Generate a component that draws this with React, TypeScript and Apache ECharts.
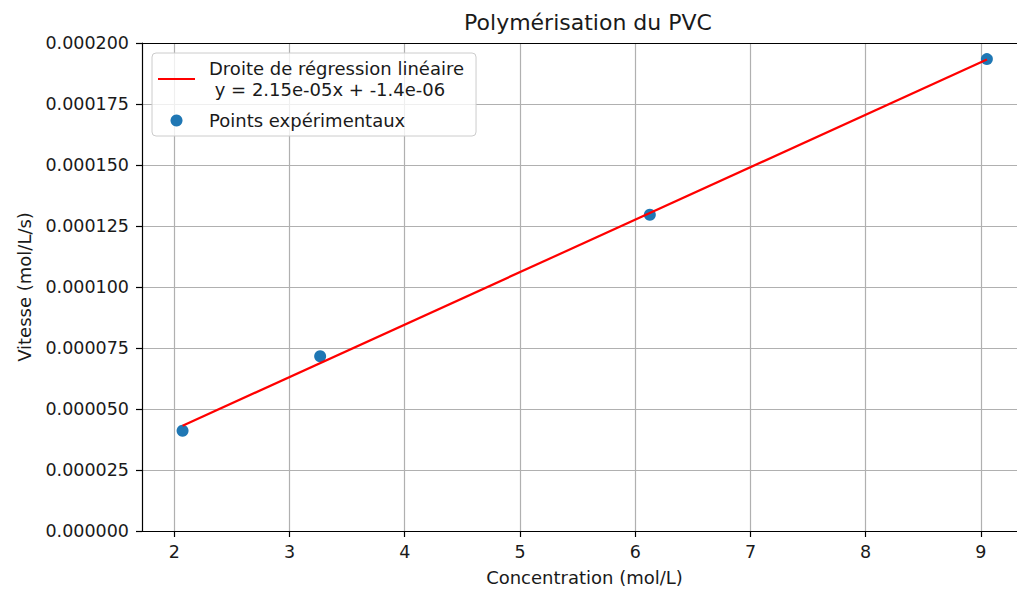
import React, { useEffect, useRef } from "react";
import * as echarts from "echarts";

// Experimental points
const concentration = [2.072, 3.266, 6.127, 9.052];
const vitesse = [4.11e-5, 7.16e-5, 1.296e-4, 1.934e-4];
// Regression line endpoints
const regressionX = [2.072, 9.052];
const regressionY = [4.315e-5, 1.932e-4];
// Tick values
const xTicks = [2, 3, 4, 5, 6, 7, 8, 9];
const yTicks = [0, 0.000025, 0.00005, 0.000075, 0.0001, 0.000125, 0.00015, 0.000175, 0.0002];

const lineLabel = "Droite de régression linéaire\n y = 2.15e-05x + -1.4e-06";
const scatterLabel = "Points expérimentaux";
const titleText = "Polymérisation du PVC";
const xName = "Concentration (mol/L)";
const yName = "Vitesse (mol/L/s)";

const FONT = "DejaVu Sans";
const TXT = "#1a1a1a";

export default function App() {
  const ref = useRef<HTMLDivElement>(null);
  useEffect(() => {
    if (!ref.current) return;
    const chart = echarts.init(ref.current, undefined, { renderer: "svg" });
    const xMin = 1.72;
    const xMax = 9.4;
    chart.setOption({
      animation: false,
      backgroundColor: "#ffffff",
      textStyle: { fontFamily: FONT, color: TXT },
      title: {
        text: titleText,
        left: 583,
        top: 6,
        textAlign: "center",
        textStyle: { fontFamily: FONT, fontSize: 22, fontWeight: "normal", color: TXT },
      },
      grid: {
        left: 142,
        top: 43,
        right: -10,
        bottom: 58,
        containLabel: false,
        outerBoundsMode: "none",
      },
      legend: {
        orient: "vertical",
        left: 152,
        top: 53,
        itemWidth: 37,
        itemHeight: 12,
        itemGap: 10,
        padding: [5, 12, 5, 6],
        backgroundColor: "rgba(255,255,255,0.8)",
        borderColor: "#cccccc",
        borderWidth: 1,
        borderRadius: 4,
        textStyle: { fontFamily: FONT, fontSize: 18, color: TXT, lineHeight: 21, padding: [0, 0, 0, 9] },
        data: [
          { name: lineLabel, icon: "path://M0,0h37v2.2h-37z", itemStyle: { color: "#ff0000" } },
          { name: scatterLabel, icon: "circle" },
        ],
      },
      xAxis: [
        {
          type: "value",
          min: xMin,
          max: xMax,
          splitNumber: 8,
          name: xName,
          nameLocation: "middle",
          nameGap: 37,
          nameTextStyle: { fontFamily: FONT, fontSize: 18, color: TXT },
          axisLine: { lineStyle: { color: "#000", width: 1.2 } },
          axisTick: { show: true, length: 6, lineStyle: { color: "#000", width: 1.2 }, customValues: xTicks },
          axisLabel: { fontFamily: FONT, fontSize: 17.5, color: TXT, margin: 12, customValues: xTicks, formatter: (v: number) => String(v) },
          splitLine: { show: true, lineStyle: { color: "#b0b0b0", width: 1.2 } },
        },
        {
          type: "value",
          position: "top",
          min: xMin,
          max: xMax,
          axisLine: { show: true, onZero: false, lineStyle: { color: "#000", width: 1.2 } },
          axisTick: { show: false },
          axisLabel: { show: false },
          splitLine: { show: false },
        },
      ],
      yAxis: {
        type: "value",
        min: 0,
        max: 0.0002,
        interval: 0.000025,
        name: yName,
        nameLocation: "middle",
        nameGap: 109,
        nameTextStyle: { fontFamily: FONT, fontSize: 18, color: TXT },
        axisLine: { show: true, lineStyle: { color: "#000", width: 1.2 } },
        axisTick: { show: true, length: 6, lineStyle: { color: "#000", width: 1.2 }, customValues: yTicks },
        axisLabel: { fontFamily: FONT, fontSize: 17.5, color: TXT, margin: 13, customValues: yTicks, formatter: (v: number) => v.toFixed(6) },
        splitLine: { show: true, lineStyle: { color: "#b0b0b0", width: 1.2 } },
      },
      series: [
        {
          name: lineLabel,
          type: "line",
          data: regressionX.map((x, i) => [x, regressionY[i]]),
          symbol: "none",
          lineStyle: { color: "#ff0000", width: 2.2 },
          itemStyle: { color: "#ff0000" },
          z: 3,
        },
        {
          name: scatterLabel,
          type: "scatter",
          data: concentration.map((x, i) => [x, vitesse[i]]),
          symbol: "circle",
          symbolSize: 12,
          itemStyle: { color: "#1f77b4", opacity: 1 },
          z: 2,
        },
      ],
    });
    return () => chart.dispose();
  }, []);
  return (
    <div
      ref={ref}
      style={{ position: "absolute", left: 0, top: 0, width: 1017, height: 589 }}
    />
  );
}
